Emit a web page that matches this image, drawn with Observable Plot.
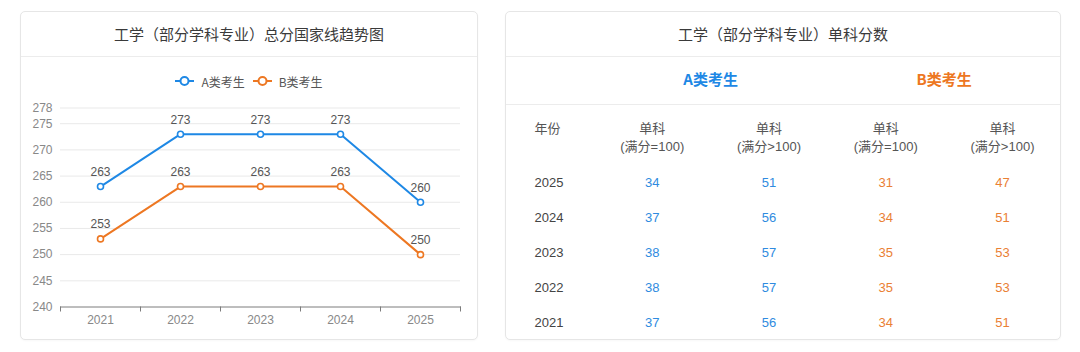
<!DOCTYPE html>
<html>
<head>
<meta charset="utf-8">
<script src="https://cdn.jsdelivr.net/npm/d3@7"></script>
<script src="https://cdn.jsdelivr.net/npm/@observablehq/plot@0.6"></script>
<style>
  body { margin: 0; background: #fff; font-family: "Liberation Sans", Arial, "Noto Sans CJK SC", sans-serif; }
  #page { position: relative; width: 1080px; height: 352px; overflow: hidden; background: #fff; }
  .card { position: absolute; border: 1px solid #e6e6e6; border-radius: 5px; background: #fff; box-sizing: border-box; box-shadow: 0 1px 2px rgba(0,0,0,0.03); }
  .title { position: absolute; left: 0; right: 0; top: 0; height: 44px; line-height: 43px; text-align: center; font-size: 15px; color: #3a3a3a; border-bottom: 1px solid #ececec; font-family: "Noto Sans CJK SC", sans-serif; }
  .legend { position: absolute; left: 0; right: 0; top: 59px; height: 20px; display: flex; justify-content: center; align-items: center; font-size: 12px; color: #555; font-family: "Noto Sans CJK SC", "Liberation Sans", sans-serif; }
  .legend .item { display: flex; align-items: center; margin: 0 4px; }
  .legend svg { margin-right: 7px; }
  .sep { position: absolute; left: 0; right: 0; height: 1px; background: #ececec; }
  .plotbox { position: absolute; }
</style>
</head>
<body>
<div id="page">
  <div class="card" id="leftCard" style="left:20px; top:11px; width:458px; height:329px;">
    <div class="title">工学（部分学科专业）总分国家线趋势图</div>
    <div class="legend" id="legend"></div>
    <div class="plotbox" id="chart" style="left:0; top:84px;"></div>
  </div>
  <div class="card" id="rightCard" style="left:505px; top:11px; width:556px; height:329px;">
    <div class="title">工学（部分学科专业）单科分数</div>
    <div class="sep" style="top:92px;"></div>
    <div class="plotbox" id="table" style="left:0; top:45px;"></div>
  </div>
</div>
<script>
// ---------- data ----------
const years = ["2021", "2022", "2023", "2024", "2025"];
const seriesNames = ["A类考生", "B类考生"];
const seriesColors = ["#1e88e5", "#ed7722"];
const aTotal = [263, 273, 273, 273, 260];
const bTotal = [253, 263, 263, 263, 250];
const yTicks = [240, 245, 250, 255, 260, 265, 270, 275, 278];

const tableYears = ["2025", "2024", "2023", "2022", "2021"];
const colHeads = ["年份", "单科", "单科", "单科", "单科"];
const colSubs = ["", "(满分=100)", "(满分>100)", "(满分=100)", "(满分>100)"];
const aSingle100 = [34, 37, 38, 38, 37];
const aSingleOver = [51, 56, 57, 57, 56];
const bSingle100 = [31, 34, 35, 35, 34];
const bSingleOver = [47, 51, 53, 53, 51];

const FONT = '"Liberation Sans", Arial, "Noto Sans CJK SC", sans-serif';

// ---------- legend ----------
const legend = document.getElementById("legend");
seriesNames.forEach((name, i) => {
  const item = document.createElement("div");
  item.className = "item";
  item.innerHTML = `<svg width="19" height="12"><line x1="0" x2="19" y1="6" y2="6" stroke="${seriesColors[i]}" stroke-width="2"/><circle cx="9.5" cy="6" r="4" fill="#fff" stroke="${seriesColors[i]}" stroke-width="2"/></svg><span>${name}</span>`;
  legend.appendChild(item);
});

// ---------- line chart ----------
const totals = years.flatMap((yr, i) => [
  {year: yr, series: seriesNames[0], value: aTotal[i]},
  {year: yr, series: seriesNames[1], value: bTotal[i]}
]);
const W = 456, H = 243, mL = 39, mR = 17, mT = 11.5, mB = 32.5;
const step = (W - mL - mR) / years.length;
const axisColor = "#7c7c7c";
const chart = Plot.plot({
  width: W, height: H,
  marginLeft: mL, marginRight: mR, marginTop: mT, marginBottom: mB,
  style: {fontFamily: FONT, fontSize: "12px", color: "#888", background: "transparent", overflow: "visible"},
  x: {type: "point", domain: years, padding: 0.5, label: null},
  y: {domain: [yTicks[0], yTicks[yTicks.length - 1]], label: null},
  color: {domain: seriesNames, range: seriesColors},
  marks: [
    Plot.gridY(yTicks.slice(1), {stroke: "#e9e9e9", strokeOpacity: 1}),
    Plot.axisY(yTicks, {tickSize: 0, tickPadding: 8, fill: "#888", label: null}),
    Plot.axisX({tickSize: 0, tickPadding: 8, fill: "#888", label: null}),
    Plot.frame({anchor: "bottom", stroke: axisColor}),
    Plot.ruleX(years, {x: d => d, dx: -step / 2, y1: yTicks[0], y2: yTicks[0], insetBottom: -5, stroke: axisColor}),
    Plot.ruleX(years.slice(-1), {x: d => d, dx: step / 2, y1: yTicks[0], y2: yTicks[0], insetBottom: -5, stroke: axisColor}),
    Plot.line(totals, {x: "year", y: "value", stroke: "series", z: "series", strokeWidth: 2}),
    Plot.dot(totals, {x: "year", y: "value", stroke: "series", fill: "#fff", r: 3, strokeWidth: 1.6}),
    Plot.text(totals, {x: "year", y: "value", text: d => String(d.value), dy: -14.5, fill: "#555", fontSize: 12})
  ]
});
document.getElementById("chart").appendChild(chart);

// ---------- table ----------
const colIdx = colHeads.map((_, i) => i);
const groupFill = {A: "#2f8be0", B: "#ea8034", year: "#444"};
const cells = tableYears.flatMap((yr, i) => [
  {col: colIdx[1], row: yr, text: String(aSingle100[i]), group: "A"},
  {col: colIdx[2], row: yr, text: String(aSingleOver[i]), group: "A"},
  {col: colIdx[3], row: yr, text: String(bSingle100[i]), group: "B"},
  {col: colIdx[4], row: yr, text: String(bSingleOver[i]), group: "B"}
]);
const groups = [
  {label: seriesNames[0], x: (colIdx[1] + colIdx[2]) / 2, color: seriesColors[0]},
  {label: seriesNames[1], x: (colIdx[3] + colIdx[4]) / 2, color: seriesColors[1]}
];
const TW = 554, TH = 282, tT = 124.5, tB = 17;
const table = Plot.plot({
  width: TW, height: TH,
  marginLeft: 29, marginRight: 58, marginTop: tT, marginBottom: tB,
  style: {fontFamily: FONT, fontSize: "13px", color: "#555", background: "transparent", overflow: "visible"},
  x: {type: "linear", domain: [colIdx[0], colIdx[colIdx.length - 1]], axis: null},
  y: {type: "point", domain: tableYears, padding: 0, axis: null},
  marks: [
    Plot.text(groups, {x: "x", frameAnchor: "top", dy: -107.5, text: "label", fill: d => d.color, fontWeight: "bold", fontSize: 15, fontFamily: '"Noto Sans CJK SC", sans-serif'}),
    Plot.text(colHeads.slice(0, 1), {x: () => colIdx[0], frameAnchor: "top", dy: -58.5, text: d => d, textAnchor: "start", dx: -1, fill: "#555", fontSize: 13, fontFamily: '"Noto Sans CJK SC", sans-serif'}),
    Plot.text(colHeads.slice(1), {x: (d, i) => colIdx[i + 1], frameAnchor: "top", dy: -58.5, text: d => d, fill: "#555", fontSize: 13, fontFamily: '"Noto Sans CJK SC", sans-serif'}),
    Plot.text(colSubs.slice(1), {x: (d, i) => colIdx[i + 1], frameAnchor: "top", dy: -40.5, text: d => d, fill: "#555", fontSize: 13}),
    Plot.text(tableYears, {x: () => colIdx[0], y: d => d, text: d => d, textAnchor: "start", dx: -1, fill: "#444", fontSize: 13}),
    Plot.text(cells, {x: "col", y: "row", text: "text", fill: d => groupFill[d.group], fontSize: 13})
  ]
});
document.getElementById("table").appendChild(table);
</script>
</body>
</html>
